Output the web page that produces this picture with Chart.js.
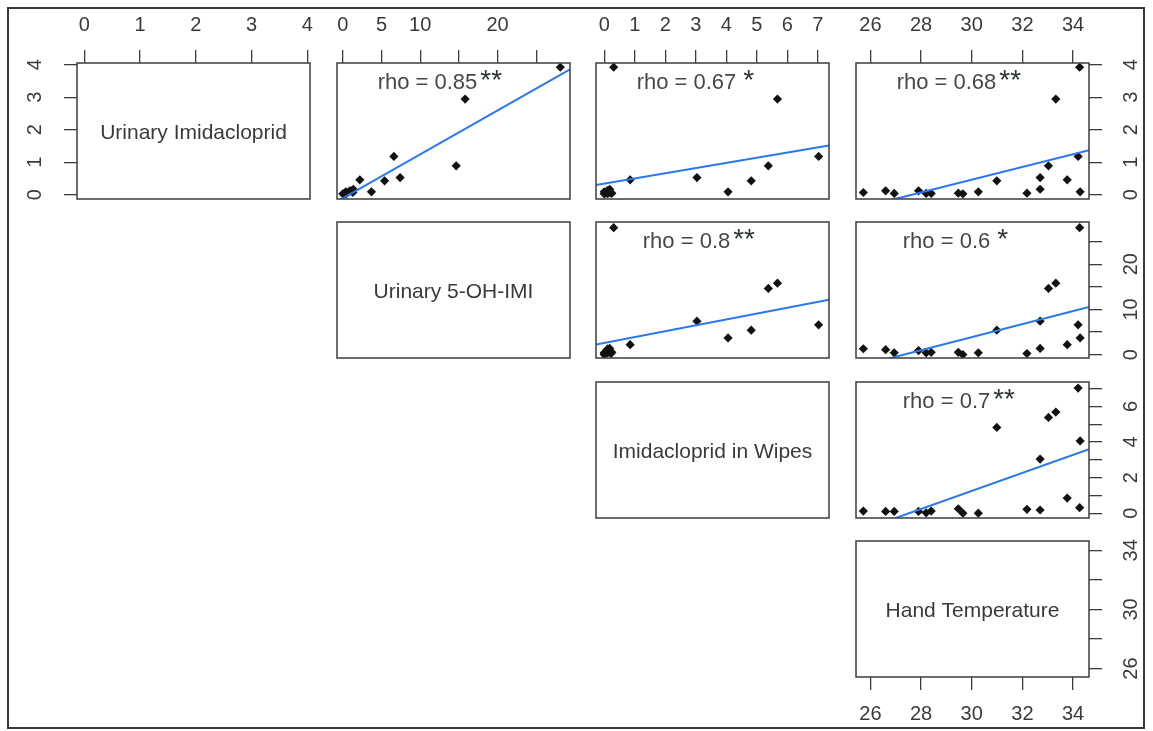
<!DOCTYPE html>
<html>
<head>
<meta charset="utf-8">
<script src="https://cdn.jsdelivr.net/npm/chart.js@4.4.0/dist/chart.umd.min.js"></script>
<style>
  html, body { margin: 0; padding: 0; background: #fff; }
  #figure { position: relative; width: 1153px; height: 731px; overflow: hidden; background: #fff; }
  #frame { position: absolute; left: 7px; top: 7px; width: 1138px; height: 722px;
           box-sizing: border-box; border: 2px solid #3a3a3a; }
  #figure canvas { position: absolute; }
</style>
</head>
<body>
<div id="figure"><div id="frame"></div></div>
<script>
// Variable names (diagonal labels)
const varNames = ['Urinary Imidacloprid', 'Urinary 5-OH-IMI', 'Imidacloprid in Wipes', 'Hand Temperature'];

// One value per subject
const urinaryImi = [3.92, 2.94, 1.18, 0.89, 0.53, 0.43, 0.46, 0.09, 0.17, 0.05, 0.09, 0.05, 0.03, 0.04, 0.04, 0.12, 0.04, 0.12, 0.07];
const urinary5OH = [28.1, 15.8, 6.6, 14.65, 7.4, 5.4, 2.2, 3.7, 1.36, 0.24, 0.4, 0.5, 0.0, 0.5, 0.4, 0.9, 0.4, 1.1, 1.3];
const wipesImi   = [0.31, 5.68, 7.03, 5.38, 3.04, 4.82, 0.85, 4.06, 0.18, 0.22, 0.0, 0.25, 0.0, 0.12, 0.02, 0.1, 0.1, 0.1, 0.12];
const handTemp   = [34.26, 33.32, 34.2, 33.03, 32.7, 30.99, 33.77, 34.28, 32.7, 32.18, 30.26, 29.47, 29.65, 28.4, 28.2, 27.9, 26.94, 26.6, 25.72];
const variables = [urinaryImi, urinary5OH, wipesImi, handTemp];

// Axis ranges and ticks per variable
const axisMin = [-0.13, -0.75, -0.27, 25.43];
const axisMax = [4.05, 29.35, 7.37, 34.63];
const tickStep = [1, 5, 1, 2];
const topTickLabels = [[0, 1, 2, 3, 4], [0, 5, 10, 20], [0, 1, 2, 3, 4, 5, 6, 7], [26, 28, 30, 32, 34]];
const sideTickLabels = [[0, 1, 2, 3, 4], [0, 10, 20], [0, 2, 4, 6], [26, 30, 34]];
const bottomTickLabels = [26, 28, 30, 32, 34];

// Correlations and fitted lines for upper panels (row var = y, col var = x)
const rhoRow = [0, 0, 0, 1, 1, 2];
const rhoCol = [1, 2, 3, 2, 3, 3];
const rhoText = ['rho = 0.85', 'rho = 0.67', 'rho = 0.68', 'rho = 0.8', 'rho = 0.6', 'rho = 0.7'];
const rhoStars = ['**', '*', '**', '**', '*', '**'];
const fitIntercept = [-0.107, 0.341, -5.415, 2.59, -39.42, -13.93];
const fitSlope = [0.135, 0.159, 0.196, 1.297, 1.443, 0.506];

// Layout
const colLeft = [77, 337, 596, 856];
const rowTop = [63, 222, 382, 541];
const PANEL_W = 233, PANEL_H = 136, M = 60;
const TICK_LEN = 13, SIDE_LABEL_DIST = 42;
const FONT = '"Liberation Sans", Arial, Helvetica, sans-serif';
const TICK_FONT_SIZE = 20;
const TEXT = '#3a3a3a', INK = '#3c3c3c';

const measureCtx = document.createElement('canvas').getContext('2d');
function widest(labels) {
  measureCtx.font = TICK_FONT_SIZE + 'px ' + FONT;
  return Math.max(...labels.map(l => measureCtx.measureText(String(l)).width));
}

function fixSize(scale) {
  if (scale.isHorizontal()) scale.height = M; else scale.width = M;
}

function makeScale(v, position, shownLabels) {
  const horiz = position === 'top' || position === 'bottom';
  const show = !!shownLabels;
  const scale = {
    type: 'linear',
    position: position,
    min: axisMin[v],
    max: axisMax[v],
    afterFit: fixSize,
    border: { display: false },
    grid: show ? {
      display: true, drawOnChartArea: false, drawTicks: true,
      tickLength: TICK_LEN, color: INK, lineWidth: 1.3
    } : { display: false },
    ticks: {
      display: show,
      stepSize: tickStep[v],
      includeBounds: false,
      autoSkip: false,
      color: TEXT,
      font: { family: FONT, size: TICK_FONT_SIZE },
      callback: (val) => (show && shownLabels.includes(val)) ? String(val) : ''
    }
  };
  if (show) {
    if (horiz) {
      scale.ticks.maxRotation = 0;
      scale.ticks.minRotation = 0;
      scale.ticks.padding = position === 'top' ? 13 : 12;
    } else {
      scale.ticks.minRotation = 90;
      scale.ticks.maxRotation = 90;
      scale.ticks.crossAlign = 'center';
      scale.ticks.padding = SIDE_LABEL_DIST - TICK_LEN - widest(shownLabels) / 2;
    }
  }
  return scale;
}

function panelDecor(row, col) {
  return {
    id: 'panelDecor',
    afterDatasetsDraw(chart) {
      const { ctx, chartArea: a } = chart;
      ctx.save();
      ctx.strokeStyle = INK;
      ctx.lineWidth = 1.5;
      ctx.strokeRect(a.left, a.top, a.right - a.left, a.bottom - a.top);
      if (row === col) {
        ctx.font = '21px ' + FONT;
        ctx.fillStyle = TEXT;
        ctx.textAlign = 'center';
        ctx.textBaseline = 'middle';
        ctx.fillText(varNames[row], (a.left + a.right) / 2, (a.top + a.bottom) / 2 + 2);
      } else {
        const k = rhoRow.findIndex((r, idx) => r === row && rhoCol[idx] === col);
        const cx = (a.left + a.right) / 2 - 26;
        const by = a.top + 26;
        ctx.font = '22px ' + FONT;
        ctx.fillStyle = '#474747';
        ctx.textAlign = 'center';
        ctx.textBaseline = 'alphabetic';
        ctx.fillText(rhoText[k], cx, by);
        const w = ctx.measureText(rhoText[k]).width;
        ctx.font = '28px ' + FONT;
        ctx.fillStyle = '#2e3631';
        ctx.textAlign = 'left';
        ctx.fillText(rhoStars[k], cx + w / 2 + (rhoStars[k].length === 1 ? 7 : 3), by);
      }
      ctx.restore();
    }
  };
}

function buildPanel(row, col) {
  const canvas = document.createElement('canvas');
  canvas.width = PANEL_W + 2 * M;
  canvas.height = PANEL_H + 2 * M;
  canvas.style.left = (colLeft[col] - M) + 'px';
  canvas.style.top = (rowTop[row] - M) + 'px';
  canvas.style.width = canvas.width + 'px';
  canvas.style.height = canvas.height + 'px';
  document.getElementById('figure').appendChild(canvas);

  const datasets = [];
  if (row !== col) {
    const k = rhoRow.findIndex((r, idx) => r === row && rhoCol[idx] === col);
    const xs = variables[col], ys = variables[row];
    const fitX = [axisMin[col], axisMax[col]];
    datasets.push({
      type: 'line',
      data: fitX.map(x => ({ x: x, y: fitIntercept[k] + fitSlope[k] * x })),
      borderColor: '#2878f0',
      borderWidth: 2,
      pointRadius: 0,
      fill: false,
      tension: 0
    });
    datasets.push({
      type: 'scatter',
      data: xs.map((x, n) => ({ x: x, y: ys[n] })),
      backgroundColor: '#111',
      borderColor: '#111',
      borderWidth: 0,
      pointStyle: 'rectRot',
      pointRadius: 4.6
    });
  }

  new Chart(canvas.getContext('2d'), {
    type: 'scatter',
    data: { datasets: datasets },
    options: {
      responsive: false,
      animation: false,
      events: [],
      layout: { padding: 0 },
      plugins: { legend: { display: false }, tooltip: { enabled: false } },
      scales: {
        x: makeScale(col, 'bottom', (row === 3 && col === 3) ? bottomTickLabels : null),
        x2: makeScale(col, 'top', row === 0 ? topTickLabels[col] : null),
        y: makeScale(row, 'left', (row === 0 && col === 0) ? sideTickLabels[0] : null),
        y2: makeScale(row, 'right', col === 3 ? sideTickLabels[row] : null)
      }
    },
    plugins: [panelDecor(row, col)]
  });
}

for (let row = 0; row < 4; row++) {
  for (let col = row; col < 4; col++) {
    buildPanel(row, col);
  }
}
</script>
</body>
</html>
